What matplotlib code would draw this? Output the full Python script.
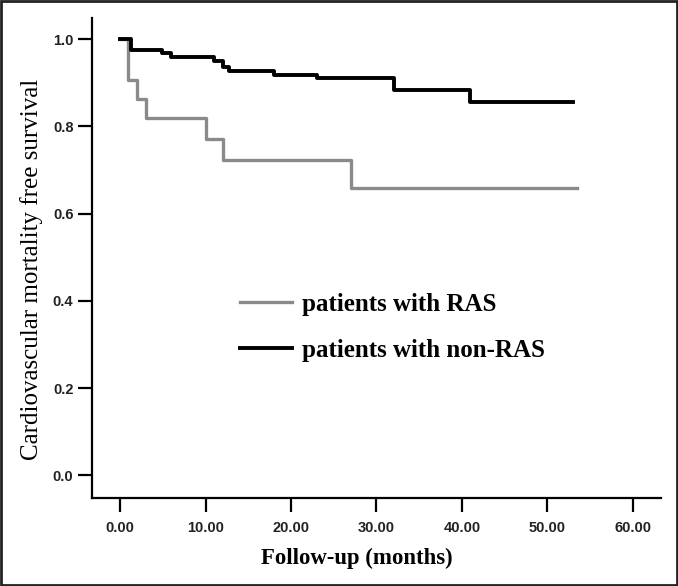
import matplotlib
matplotlib.use("Agg")
import matplotlib.pyplot as plt
from matplotlib.patches import Rectangle

# Kaplan-Meier steps (months, survival)
ras_t = [0, 0.9, 2.0, 3.0, 10.0, 12.0, 27.0, 53.5]
ras_s = [1.0, 0.907, 0.863, 0.820, 0.772, 0.723, 0.659, 0.659]

nonras_t = [0, 1.3, 4.9, 6.0, 11.0, 12.0, 12.8, 18.0, 23.0, 32.0, 41.0, 53.0]
nonras_s = [1.0, 0.976, 0.968, 0.960, 0.951, 0.937, 0.928, 0.918, 0.911, 0.884, 0.857, 0.857]

xticks = [0, 10, 20, 30, 40, 50, 60]
yticks = [0.0, 0.2, 0.4, 0.6, 0.8, 1.0]

fig = plt.figure(figsize=(6.78, 5.86), dpi=100)
ax = fig.add_axes([0.135, 0.1507, 0.840, 0.8186])

ax.step(ras_t, ras_s, where="post", color="#8a8a8a", lw=2.4, label="patients with RAS")
ax.step(nonras_t, nonras_s, where="post", color="black", lw=2.8, label="patients with non-RAS")

ax.set_xlim(-3.34, 63.3)
ax.set_ylim(-0.0513, 1.0488)
ax.set_xticks(xticks)
ax.set_xticklabels([f"{v:.2f}" for v in xticks])
ax.set_yticks(yticks)
ax.set_yticklabels([f"{v:.1f}" for v in yticks])

for s in ["top", "right"]:
    ax.spines[s].set_visible(False)
for s in ["left", "bottom"]:
    ax.spines[s].set_linewidth(1.6)

ax.tick_params(axis="both", length=10, width=1.6, labelsize=10.5)
ax.tick_params(axis="x", pad=6.5)
ax.tick_params(axis="y", pad=3)
for lab in ax.get_xticklabels() + ax.get_yticklabels():
    lab.set_family("Liberation Sans")
    lab.set_fontweight("bold")
    lab.set_color("#222222")

ax.set_ylabel("Cardiovascular mortality free survival", family="Liberation Serif", fontsize=18)
ax.yaxis.set_label_coords(-0.105, 0.475)
ax.yaxis.label.set_verticalalignment("center")

ax.set_xlabel("Follow-up (months)", family="Liberation Serif", fontweight="bold", fontsize=16.4)
ax.xaxis.set_label_coords(0.466, -0.126)
ax.xaxis.label.set_verticalalignment("center")

ax.legend(loc="upper left", bbox_to_anchor=(240 / 678, 1 - 293 / 586), bbox_transform=fig.transFigure,
          frameon=False, borderpad=0, borderaxespad=0, handlelength=2.08, handletextpad=0.4,
          labelspacing=0.92, prop={"family": "Liberation Serif", "weight": "bold", "size": 18})

fig.patches.append(Rectangle((0.001, 0.001), 0.998, 0.998, transform=fig.transFigure,
                             fill=False, edgecolor="#222222", lw=2))

fig.savefig("out.png", dpi=100)
